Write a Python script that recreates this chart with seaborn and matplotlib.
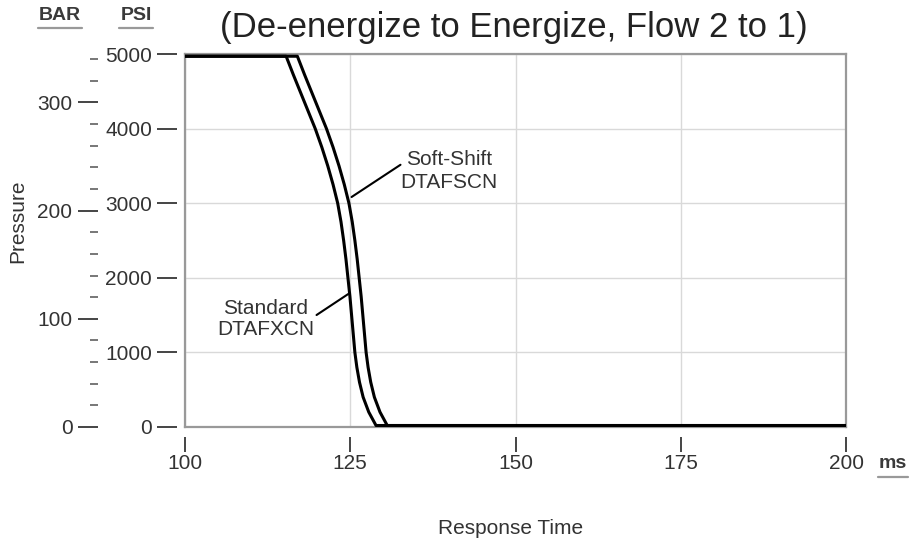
import matplotlib
matplotlib.use("Agg")
import matplotlib.pyplot as plt
from matplotlib.lines import Line2D
from matplotlib.ticker import MultipleLocator
import pandas as pd
import seaborn as sns

# response curves (ms, psi)
standard_ms = [100, 115.3, 116.4, 117.5, 118.6, 119.7, 120.7, 121.6, 122.4, 123.1, 123.6,
               124.0, 124.35, 124.65, 124.95, 125.2, 125.45, 125.7, 126.0, 126.4, 126.95,
               127.8, 128.9, 200]
softshift_ms = [100, 117.0, 118.1, 119.2, 120.3, 121.4, 122.4, 123.3, 124.1, 124.8, 125.3,
                125.7, 126.05, 126.35, 126.65, 126.9, 127.15, 127.4, 127.7, 128.1, 128.65,
                129.5, 130.6, 200]
pressure_psi = [4970, 4970, 4720, 4480, 4240, 4000, 3750, 3500, 3250, 3000, 2750,
                2500, 2250, 2000, 1750, 1500, 1250, 1000, 800, 600, 400,
                200, 20, 20]

series_names = ["Standard", "Soft-Shift"]
x_ticks = [100, 125, 150, 175, 200]
psi_ticks = [0, 1000, 2000, 3000, 4000, 5000]
bar_ticks = [0, 100, 200, 300]
PSI_PER_BAR = 14.5038

df = pd.concat([
    pd.DataFrame({"ms": standard_ms, "psi": pressure_psi, "valve": series_names[0]}),
    pd.DataFrame({"ms": softshift_ms, "psi": pressure_psi, "valve": series_names[1]}),
])

sns.set_theme(style="white")
plt.rcParams["font.family"] = ["Liberation Sans", "DejaVu Sans"]

fig = plt.figure(figsize=(9.1, 5.44), dpi=100)
ax = fig.add_axes([185 / 910, 1 - 427 / 544, 661 / 910, 373 / 544])

sns.lineplot(data=df, x="ms", y="psi", hue="valve", palette=["black", "black"],
             sort=False, estimator=None, linewidth=2.2, legend=False, ax=ax, zorder=3)

ax.set_xlim(100, 200)
ax.set_ylim(0, 5000)
ax.set_xticks(x_ticks)
ax.set_yticks(psi_ticks)
ax.grid(True, color="#d9d9d9", linewidth=1)
ax.tick_params(length=0, labelleft=False, labelbottom=False)
ax.set_xlabel("")
ax.set_ylabel("")
for s in ax.spines.values():
    s.set_color("#999999")
    s.set_linewidth(1.6)

tick_col = "#444444"
lab_col = "#333333"
FS = 15

# PSI scale
psi_ax = ax.secondary_yaxis(-8 / 661)
psi_ax.set_yticks(psi_ticks)
psi_ax.spines["left"].set_visible(False)
psi_ax.tick_params(axis="y", length=14.4, width=1.4, color=tick_col, pad=3.5,
                   labelsize=FS, labelcolor=lab_col)

# BAR scale
bar_ax = ax.secondary_yaxis((98 - 185) / 661,
                            functions=(lambda p: p / PSI_PER_BAR, lambda b: b * PSI_PER_BAR))
bar_ax.set_yticks(bar_ticks)
bar_ax.yaxis.set_minor_locator(MultipleLocator(20))
bar_ax.spines["left"].set_visible(False)
bar_ax.tick_params(axis="y", which="major", length=14.4, width=1.4, color=tick_col, pad=4,
                   labelsize=FS, labelcolor=lab_col)
bar_ax.tick_params(axis="y", which="minor", length=5.8, width=1.4, color="#777777")

# time scale
x_ax = ax.secondary_xaxis(-10 / 373)
x_ax.set_xticks(x_ticks)
x_ax.spines["bottom"].set_visible(False)
x_ax.tick_params(axis="x", length=10.8, width=1.4, color=tick_col, pad=1.5,
                 labelsize=FS, labelcolor=lab_col)

# curve callouts
ax.text(139.9, 3432, "Soft-Shift\nDTAFSCN", ha="center", va="center", fontsize=FS,
        color=lab_col, linespacing=1.25)
ax.annotate("", xy=(125.2, 3083), xytext=(132.6, 3515),
            arrowprops=dict(arrowstyle="-", color="black", lw=1.5, shrinkA=0, shrinkB=0))
ax.text(112.25, 1448, "Standard\nDTAFXCN", ha="center", va="center", fontsize=FS,
        color=lab_col, linespacing=1.15)
ax.annotate("", xy=(124.7, 1783), xytext=(119.9, 1501),
            arrowprops=dict(arrowstyle="-", color="black", lw=1.5, shrinkA=0, shrinkB=0))

fig.text(514 / 910, 1 - 28 / 544, "(De-energize to Energize, Flow 2 to 1)",
         ha="center", va="center", fontsize=25, color="#222222")
fig.text(18 / 910, 1 - 221 / 544, "Pressure", rotation=90, ha="center", va="center",
         fontsize=FS, color=lab_col)
fig.text(511 / 910, 1 - 528 / 544, "Response Time", ha="center", va="center",
         fontsize=FS, color=lab_col)

# underlined unit headers
for label, cx, cy, half in [("BAR", 60, 15, 22), ("PSI", 136, 15, 17), ("ms", 893, 464, 15)]:
    fig.text(cx / 910, 1 - cy / 544, label, ha="center", va="center",
             fontsize=14, fontweight="bold", color="#3a3a3a")
    fig.add_artist(Line2D([(cx - half) / 910, (cx + half) / 910],
                          [1 - (cy + 13) / 544, 1 - (cy + 13) / 544],
                          color="#999999", lw=1.6))

fig.savefig("out.png", dpi=100)
